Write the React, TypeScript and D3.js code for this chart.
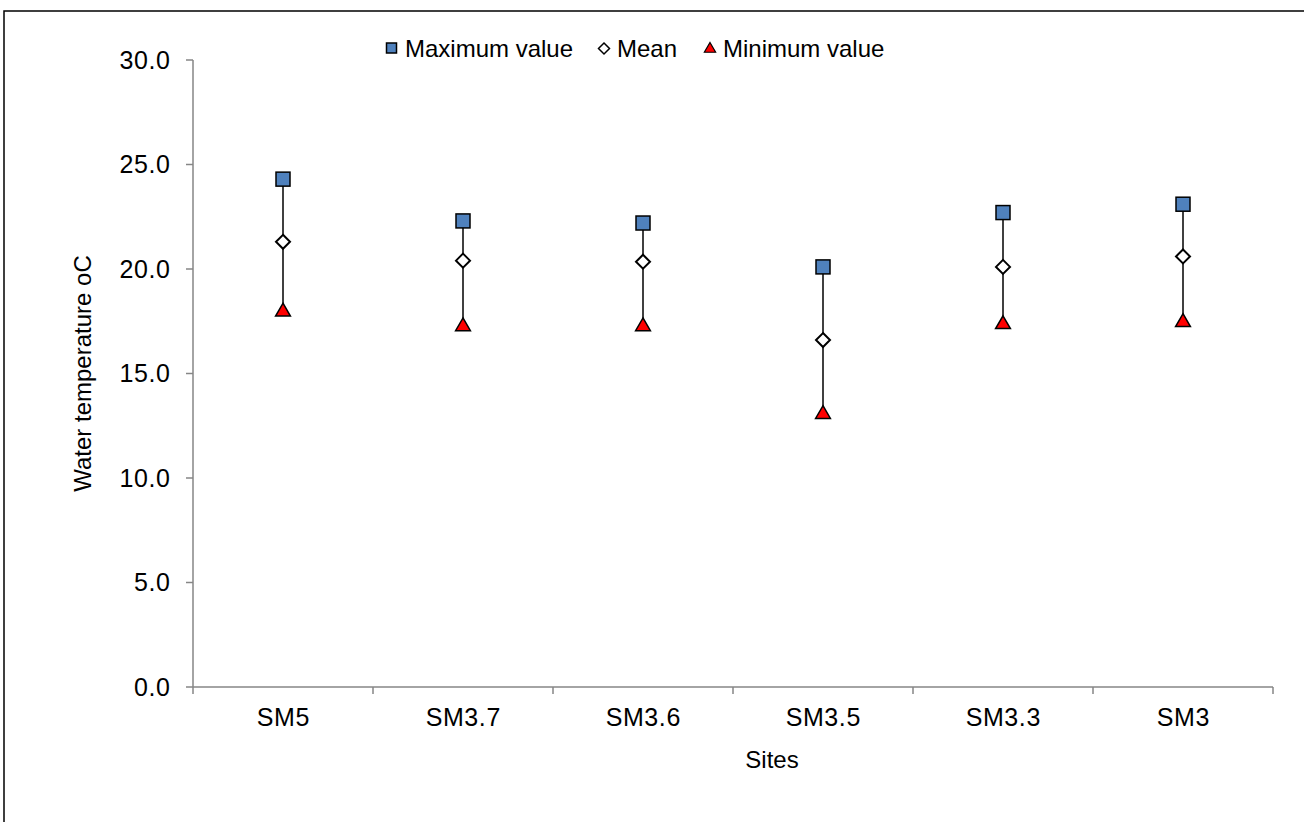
import React from "react";
import * as d3 from "d3";

const sites = ["SM5", "SM3.7", "SM3.6", "SM3.5", "SM3.3", "SM3"];
const maxValues = [24.3, 22.3, 22.2, 20.1, 22.7, 23.1];
const meanValues = [21.3, 20.4, 20.35, 16.6, 20.1, 20.6];
const minValues = [18.0, 17.3, 17.3, 13.1, 17.4, 17.5];
const yTicks = [0, 5, 10, 15, 20, 25, 30];

const W = 1304;
const H = 822;
const plot = { left: 193, right: 1273, top: 60, bottom: 687 };
const FONT = "'Liberation Sans', Arial, sans-serif";
const axisColor = "#868686";

export default function App() {
  const x = d3.scaleBand<string>().domain(sites).range([plot.left, plot.right]);
  const y = d3.scaleLinear().domain([0, 30]).range([plot.bottom, plot.top]);
  const cx = (s: string) => (x(s) ?? 0) + x.bandwidth() / 2;
  const boundaries = [...sites.map((s) => x(s) ?? 0), plot.right];

  const tri = d3.symbol(d3.symbolTriangle, 95)();
  const legendTri = d3.symbol(d3.symbolTriangle, 55)();

  return (
    <svg
      width={W}
      height={H}
      style={{ position: "absolute", left: 0, top: 0, background: "#fff" }}
      fontFamily={FONT}
    >
      <rect x={4} y={11} width={W + 10} height={H + 10} fill="#fff" stroke="#000" strokeWidth={1.5} />

      {/* y axis */}
      <line x1={plot.left} x2={plot.left} y1={plot.top} y2={plot.bottom} stroke={axisColor} strokeWidth={1.5} />
      {yTicks.map((t) => (
        <g key={t}>
          <line x1={plot.left - 7} x2={plot.left} y1={y(t)} y2={y(t)} stroke={axisColor} strokeWidth={1.5} />
          <text x={170.6} y={y(t)} dy="0.35em" textAnchor="end" fontSize={25} letterSpacing={0.6} fill="#000">
            {t.toFixed(1)}
          </text>
        </g>
      ))}

      {/* x axis */}
      <line x1={plot.left} x2={plot.right} y1={plot.bottom} y2={plot.bottom} stroke={axisColor} strokeWidth={1.5} />
      {boundaries.map((b, i) => (
        <line key={i} x1={b} x2={b} y1={plot.bottom} y2={plot.bottom + 7} stroke={axisColor} strokeWidth={1.5} />
      ))}
      {sites.map((s) => (
        <text key={s} x={cx(s) + 0.3} y={726} textAnchor="middle" fontSize={25} letterSpacing={0.6} fill="#000">
          {s}
        </text>
      ))}

      {/* axis titles */}
      <text x={772} y={768} textAnchor="middle" fontSize={24} fill="#000">
        Sites
      </text>
      <text
        transform={`translate(91, ${(plot.top + plot.bottom) / 2}) rotate(-90)`}
        textAnchor="middle"
        fontSize={24}
        fill="#000"
      >
        Water temperature oC
      </text>

      {/* high-low lines */}
      {sites.map((s, i) => (
        <line key={s} x1={cx(s)} x2={cx(s)} y1={y(maxValues[i])} y2={y(minValues[i])} stroke="#000" strokeWidth={1.5} />
      ))}

      {/* minimum markers */}
      {sites.map((s, i) => (
        <path
          key={s}
          d={tri ?? ""}
          transform={`translate(${cx(s)}, ${y(minValues[i]) + 1})`}
          fill="#FF0000"
          stroke="#000"
          strokeWidth={1.5}
        />
      ))}

      {/* mean markers */}
      {sites.map((s, i) => {
        const px = cx(s);
        const py = y(meanValues[i]);
        const r = 7;
        return (
          <path
            key={s}
            d={`M${px},${py - r}L${px + r},${py}L${px},${py + r}L${px - r},${py}Z`}
            fill="#fff"
            stroke="#000"
            strokeWidth={2}
          />
        );
      })}

      {/* maximum markers */}
      {sites.map((s, i) => (
        <rect
          key={s}
          x={cx(s) - 7}
          y={y(maxValues[i]) - 7}
          width={14}
          height={14}
          fill="#4F81BD"
          stroke="#000"
          strokeWidth={1.5}
        />
      ))}

      {/* legend */}
      <g fontSize={24} fill="#000">
        <rect x={386.5} y={43} width={10} height={10} fill="#4F81BD" stroke="#000" strokeWidth={1.5} />
        <text x={405} y={57}>Maximum value</text>
        <path d="M604,43L609.5,48.5L604,54L598.5,48.5Z" fill="#fff" stroke="#000" strokeWidth={1.5} />
        <text x={617} y={57}>Mean</text>
        <path d={legendTri ?? ""} transform="translate(710, 49)" fill="#FF0000" stroke="#000" strokeWidth={1.2} />
        <text x={723} y={57}>Minimum value</text>
      </g>
    </svg>
  );
}
